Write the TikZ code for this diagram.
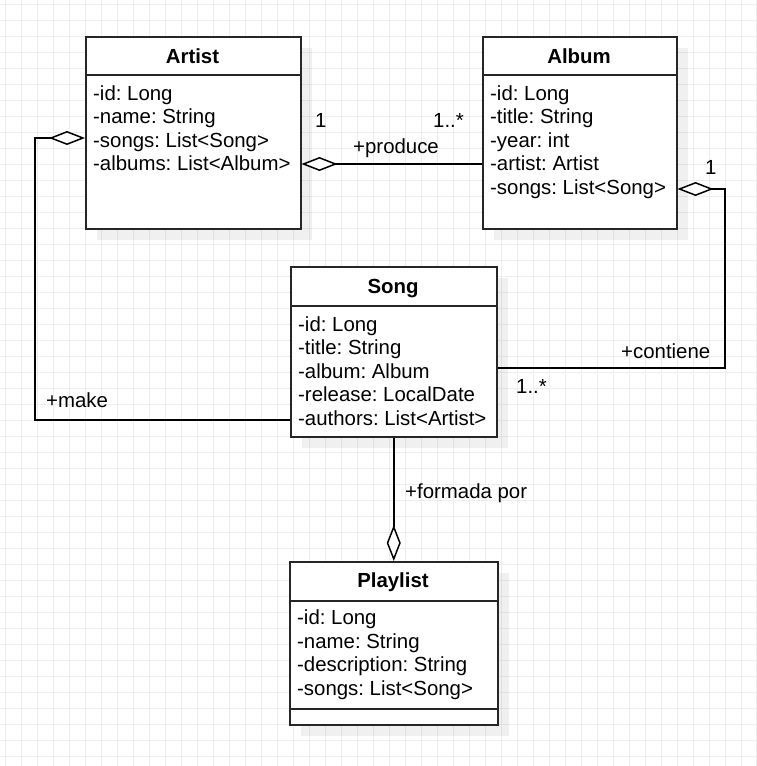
\documentclass[tikz,border=0pt]{standalone}
\usepackage{fontspec}
\setmainfont{Liberation Sans}
\usetikzlibrary{arrows.meta,shadows}
\definecolor{gridgray}{HTML}{EDEDED}
\definecolor{umlline}{HTML}{262626}
\frenchspacing

\begin{document}
\begin{tikzpicture}[x=1pt,y=-1pt,
  font=\fontsize{20.4}{24}\selectfont,
  gridline/.style={draw=gridgray,line width=1pt},
  classbox/.style={draw=umlline,line width=1.5pt,fill=white,anchor=north west,inner sep=0pt,
    drop shadow={shadow xshift=11pt,shadow yshift=-11pt,fill=black,opacity=.06}},
  sepline/.style={draw=umlline,line width=1.5pt},
  classname/.style={anchor=base,inner sep=0pt,font=\fontsize{20.4}{24}\selectfont\bfseries},
  attr/.style={anchor=base west,inner sep=0pt},
  lbl/.style={anchor=base west,inner sep=0pt},
  agg/.style={draw=black,line width=1.5pt,arrows={Diamond[fill=white,length=36pt,width=14pt]-}}]
\fill[white] (0,0) rectangle (757,766);
\useasboundingbox (0,0) rectangle (757,766);
\draw[gridline,shift={(5,4)}] (-5,-4) grid[step=16pt] (752,762);

\node[classbox,minimum width=215pt,minimum height=192pt] (artist) at (85,36) {};
\draw[sepline] (85,75) -- (300,75);
\node[classname] (artistname) at (192.5,63) {Artist};
\node[attr] (artist1) at (93,100) {-id: Long};
\node[attr] (artist2) at (93,123.5) {-name: String};
\node[attr] (artist3) at (93,147) {-songs: List<Song>};
\node[attr] (artist4) at (93,170.5) {-albums: List<Album>};

\node[classbox,minimum width=194pt,minimum height=192pt] (album) at (482,36) {};
\draw[sepline] (482,75) -- (676,75);
\node[classname] (albumname) at (579,63) {Album};
\node[attr] (album1) at (490,100) {-id: Long};
\node[attr] (album2) at (490,123.5) {-title: String};
\node[attr] (album3) at (490,147) {-year: int};
\node[attr] (album4) at (490,170.5) {-artist: Artist};
\node[attr] (album5) at (490,194) {-songs: List<Song>};

\node[classbox,minimum width=206pt,minimum height=170pt] (song) at (290,266) {};
\draw[sepline] (290,306) -- (496,306);
\node[classname] (songname) at (393,293) {Song};
\node[attr] (song1) at (298,331) {-id: Long};
\node[attr] (song2) at (298,354.5) {-title: String};
\node[attr] (song3) at (298,378) {-album: Album};
\node[attr] (song4) at (298,401.5) {-release: LocalDate};
\node[attr] (song5) at (298,425) {-authors: List<Artist>};

\node[classbox,minimum width=208pt,minimum height=163pt] (playlist) at (289,561) {};
\draw[sepline] (289,601) -- (497,601);
\draw[sepline] (289,709) -- (497,709);
\node[classname] (playlistname) at (393,587) {Playlist};
\node[attr] (playlist1) at (297,624.5) {-id: Long};
\node[attr] (playlist2) at (297,648) {-name: String};
\node[attr] (playlist3) at (297,671.5) {-description: String};
\node[attr] (playlist4) at (297,695) {-songs: List<Song>};

\coordinate (make1) at (35,138);
\coordinate (make2) at (35,420);
\draw[agg] (artist.west |- make1) -- (make1) -- (make2) -- (song.west |- make2);
\coordinate (produce) at (0,164);
\draw[agg] (artist.east |- produce) -- (album.west |- produce);
\coordinate (contiene1) at (725,189);
\coordinate (contiene2) at (725,368);
\draw[agg] (album.east |- contiene1) -- (contiene1) -- (contiene2) -- (song.east |- contiene2);
\draw[agg] (playlist.north) -- (song.south);

\node[lbl] (mult1) at (315,127) {1};
\node[lbl] (mult2) at (433,127) {1..*};
\node[lbl] (producelbl) at (353,153) {+produce};
\node[lbl] (mult3) at (705,174) {1};
\node[lbl] (contienelbl) at (621,358) {+contiene};
\node[lbl] (mult4) at (516,393) {1..*};
\node[lbl] (makelbl) at (46,407) {+make};
\node[lbl] (formadalbl) at (405,498) {+formada por};
\end{tikzpicture}
\end{document}
